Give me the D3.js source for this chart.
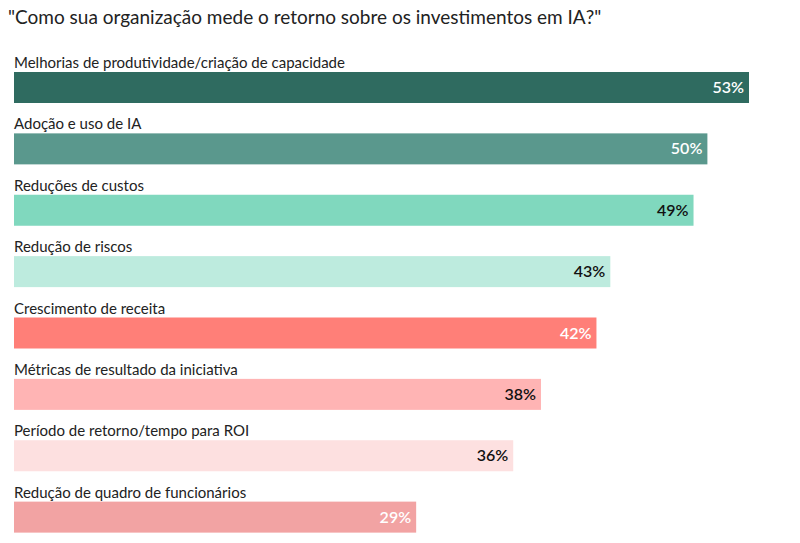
<!DOCTYPE html><html><head><meta charset="utf-8"><script src="https://cdn.jsdelivr.net/npm/d3@7"></script>
<style>body{margin:0;background:#fff}text{font-family:Lato,sans-serif}</style></head><body><svg id="c" width="800" height="543"></svg>
<script>
const categories=["Melhorias de produtividade/criação de capacidade","Adoção e uso de IA","Reduções de custos","Redução de riscos","Crescimento de receita","Métricas de resultado da iniciativa","Período de retorno/tempo para ROI","Redução de quadro de funcionários"];
const values=[53,50,49,43,42,38,36,29];
const colors=["#2f6b60","#5a988d","#80d8be","#bdebde","#ff7f78","#ffb4b4","#fde0e0","#f2a3a3"];
const textColors=["#fff","#fff","#111","#111","#fff","#111","#111","#fff"];
const svg=d3.select("#c");
svg.append("text").attr("x",8).attr("y",24).attr("font-size",19).attr("fill","#222").text("\"Como sua organização mede o retorno sobre os investimentos em IA?\"");
const x=d3.scaleLinear().domain([0,53]).range([14,749]);
const y=d3.scaleBand().domain(categories).range([52,543]).paddingInner(0);
const g=svg.selectAll("g.r").data(categories).join("g").attr("class","r").attr("transform",d=>`translate(0,${y(d)})`);
g.append("text").attr("x",14).attr("y",16).attr("font-size",15).attr("fill","#222").text(d=>d);
g.append("rect").attr("x",14).attr("y",20).attr("height",31).attr("width",(d,i)=>x(values[i])-14).attr("fill",(d,i)=>colors[i]);
g.append("text").attr("x",(d,i)=>x(values[i])-5).attr("y",41).attr("text-anchor","end").attr("font-size",16).attr("font-weight",600).attr("fill",(d,i)=>textColors[i]).text((d,i)=>values[i]+"%");
</script></body></html>
